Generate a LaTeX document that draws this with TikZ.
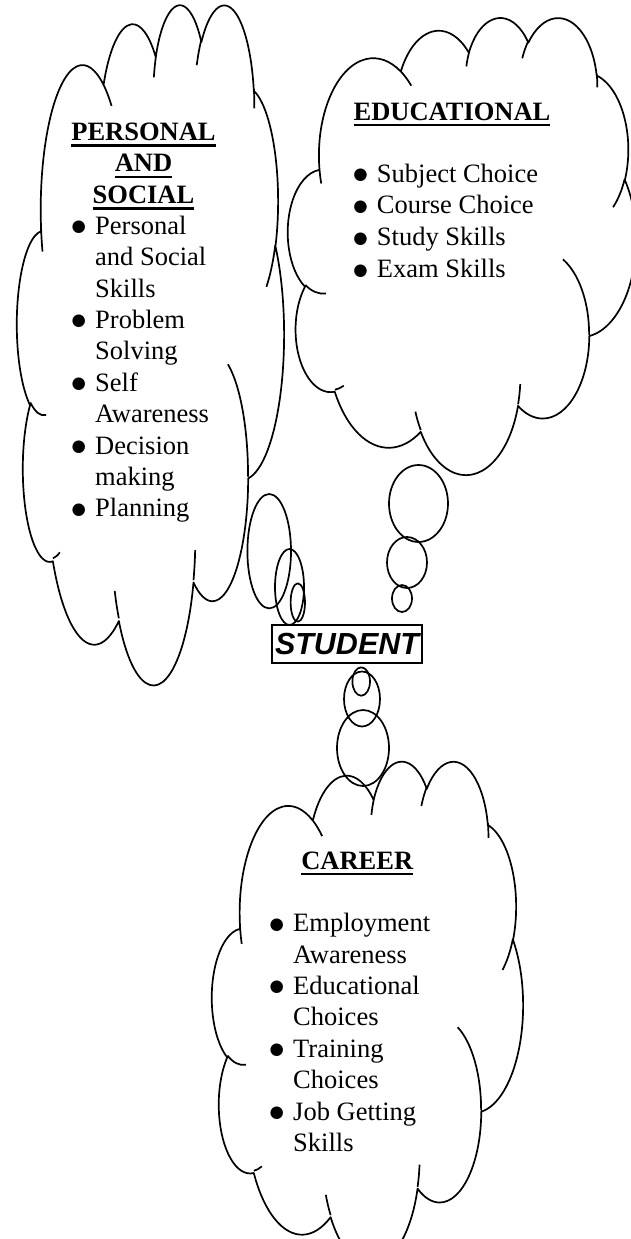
\documentclass[tikz,border=0pt]{standalone}
\usepackage{fontspec}
\setmainfont{Liberation Serif}
\newfontfamily\studentfont{Liberation Sans}
\newfontfamily\bulfont{DejaVu Sans}
\tikzset{
  declare function={pa(\qt,\qa,\qb)=\qt+atan((\qa-\qb)*sin(\qt)*cos(\qt)/(\qb*cos(\qt)*cos(\qt)+\qa*sin(\qt)*sin(\qt)));},
  cloudline/.style={line width=1.7bp, line join=round},
  txt/.style={font=\fontsize{26.6pt}{31.5pt}\selectfont, inner sep=0pt},
  txtwide/.style={font=\fontsize{26.6pt}{32.1pt}\selectfont, inner sep=0pt},
  studentbox/.style={draw, line width=2bp, minimum width=150bp, minimum height=38bp, inner sep=0pt,
    font=\studentfont\bfseries\itshape\fontsize{30.6pt}{36pt}\selectfont}
}
\newcommand\carc[4]{arc[start angle={pa(#3,#1,#2)}, end angle={pa(#3+#4,#1,#2)}, x radius=#1, y radius=#2]}
\newcommand\cloudshape{%
(3.900,14.370)
\carc{6.753}{9.190}{-190.4875}{123.7805}
\carc{5.333}{7.267}{-144.1024}{89.9452}
\carc{4.365}{5.945}{-145.8079}{99.7230}
\carc{4.857}{6.595}{-130.9861}{117.2417}
\carc{5.333}{7.273}{-78.7089}{109.0269}
\carc{6.775}{9.220}{-46.2673}{130.2690}
\carc{5.785}{7.867}{0.6250}{114.0333}
\carc{6.752}{9.215}{22.4516}{115.1726}
\carc{7.720}{10.543}{66.2426}{75.7110}
\carc{4.360}{5.918}{-274.9421}{146.7356}
\carc{4.345}{5.945}{-246.8285}{152.5189} -- cycle
(4.693,26.177) \carc{4.345}{5.945}{86.7420}{26.4295}
(6.928,34.899) \carc{4.360}{5.918}{73.6105}{11.4475}
(16.478,39.090) \carc{6.752}{9.215}{137.6242}{14.0811}
(28.827,34.751) \carc{6.752}{9.215}{6.4533}{15.9984}
(34.129,22.954) \carc{5.785}{7.867}{-70.2924}{70.9174}
(41.798,15.354) \carc{5.333}{7.273}{30.3180}{27.7515}
(38.324,5.426) \carc{4.857}{6.595}{-13.7443}{14.8589}
(29.078,3.952) \carc{4.857}{6.595}{-149.1815}{18.1954}
(22.141,4.720) \carc{4.365}{5.945}{-163.4943}{17.6864}
(14.000,5.192) \carc{6.753}{9.190}{-66.7070}{12.3194}
(4.127,15.789) \carc{6.753}{9.190}{157.6544}{11.8582}
}
\newcommand\hd[1]{{\bfseries\setbox0\hbox{#1}\rlap{\rule[-6.3bp]{\wd0}{2.6bp}}\box0}}
\newcommand\bl{\makebox[25bp][l]{\hspace{1.5bp}\raisebox{2.6bp}{\bulfont\fontsize{16.5pt}{16.5pt}\selectfont ●}}}
\begin{document}
\begin{tikzpicture}[x=1bp, y=1bp, yscale=-1]
\useasboundingbox (0,0) rectangle (631,1239);
\fill[white] (0,0) rectangle (631,1239);
\clip (0,0) rectangle (631,1239);

% clouds
\begin{scope}[shift={(17,3)}, xscale=6.1806, yscale=15.7407]
  \draw[cloudline] \cloudshape;
\end{scope}
\begin{scope}[shift={(288,16.5)}, xscale=8.0556, yscale=10.5787]
  \draw[cloudline] \cloudshape;
\end{scope}
\begin{scope}[shift={(212,760)}, xscale=7.1991, yscale=11.6435]
  \draw[cloudline] \cloudshape;
\end{scope}

% thought bubbles
\draw[cloudline] (269.2,551.2) ellipse [x radius=21.8, y radius=57.2];
\draw[cloudline] (289.5,587) ellipse [x radius=14.5, y radius=38];
\draw[cloudline] (297.8,602.5) ellipse [x radius=7.2, y radius=19.2];

\draw[cloudline] (418.5,503.5) ellipse [x radius=29.5, y radius=38.5];
\draw[cloudline] (407,562.5) ellipse [x radius=20, y radius=25.5];
\draw[cloudline] (402,598.5) ellipse [x radius=10, y radius=13.5];

\draw[cloudline] (361.2,681.5) ellipse [x radius=8.8, y radius=14.2];
\draw[cloudline] (362,699) ellipse [x radius=18, y radius=27.5];
\draw[cloudline] (363,748) ellipse [x radius=26, y radius=38];

% texts
\node[txt, anchor=base] (pshead) at (143.5,140.5)
  {\begin{tabular}[t]{@{}c@{}}\hd{PERSONAL}\\\hd{AND}\\\hd{SOCIAL}\end{tabular}};
\node[txt, anchor=base west] (pslist) at (70,234.4)
  {\begin{tabular}[t]{@{}l@{}l@{}}
   \bl & Personal\\ & and Social\\ & Skills\\
   \bl & Problem\\ & Solving\\
   \bl & Self\\ & Awareness\\
   \bl & Decision\\ & making\\
   \bl & Planning
   \end{tabular}};

\node[txt, anchor=base] (edhead) at (452,120) {\hd{EDUCATIONAL}};
\node[txtwide, anchor=base west] (edlist) at (351.7,182)
  {\begin{tabular}[t]{@{}l@{}l@{}}
   \bl & Subject Choice\\
   \bl & Course Choice\\
   \bl & Study Skills\\
   \bl & Exam Skills
   \end{tabular}};

\node[txt, anchor=base] (cahead) at (357.2,869) {\hd{CAREER}};
\node[txt, anchor=base west] (calist) at (268,931.7)
  {\begin{tabular}[t]{@{}l@{}l@{}}
   \bl & Employment\\ & Awareness\\
   \bl & Educational\\ & Choices\\
   \bl & Training\\ & Choices\\
   \bl & Job Getting\\ & Skills
   \end{tabular}};

\node[studentbox] (student) at (347,644) {STUDENT};
\end{tikzpicture}
\end{document}
